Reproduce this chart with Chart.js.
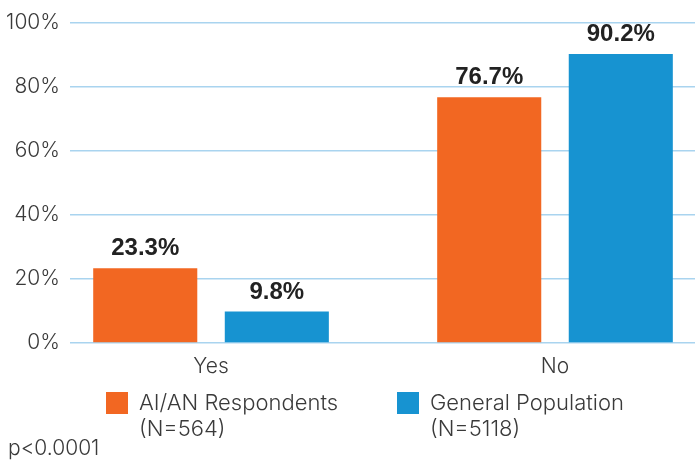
<!DOCTYPE html>
<html>
<head>
<meta charset="utf-8">
<script src="https://cdn.jsdelivr.net/npm/chart.js@4.4.1/dist/chart.umd.min.js"></script>
<style>
  html, body { margin: 0; padding: 0; background: #fff; }
  #wrap { width: 695px; height: 464px; position: relative; }
</style>
</head>
<body>
<div id="wrap"><canvas id="chart"></canvas></div>
<script>
// data
const categories = ['Yes', 'No'];
const seriesNames = ['AI/AN Respondents', 'General Population'];
const seriesN = ['(N=564)', '(N=5118)'];
const aianValues = [23.3, 76.7];
const generalValues = [9.8, 90.2];
const yTicks = [0, 20, 40, 60, 80, 100];
const note = 'p<0.0001';

const ORANGE = '#F26722';
const BLUE = '#1793D1';
const GRID = '#A9D4EF';
const TEXT = '#3a3a3a';
const FONT = 'Inter, "Open Sans", sans-serif';

// categories sit at x = 1, 2 on a linear axis so their spacing can match the original
const toPoints = vals => vals.map((v, i) => ({ x: i + 1, y: v }));

// bold value labels above each bar
const valueLabels = {
    id: 'valueLabels',
    afterDatasetsDraw(chart) {
        const ctx = chart.ctx;
        ctx.save();
        ctx.font = 'bold 24px "Liberation Sans", Arial, sans-serif';
        ctx.fillStyle = '#222';
        ctx.textAlign = 'center';
        ctx.textBaseline = 'alphabetic';
        chart.data.datasets.forEach((ds, di) => {
            chart.getDatasetMeta(di).data.forEach((bar, i) => {
                ctx.fillText(ds.data[i].y.toFixed(1) + '%', bar.x, bar.y - 13);
            });
        });
        ctx.restore();
    }
};

// two-line legend under the axis, plus the p-value note
const bottomLegend = {
    id: 'bottomLegend',
    afterDraw(chart) {
        const ctx = chart.ctx;
        const starts = [106, 397];
        ctx.save();
        ctx.font = '300 22px ' + FONT;
        ctx.textBaseline = 'middle';
        ctx.textAlign = 'left';
        chart.data.datasets.forEach((ds, i) => {
            const x = starts[i];
            ctx.fillStyle = ds.backgroundColor;
            ctx.fillRect(x, 392, 22, 22);
            ctx.fillStyle = TEXT;
            ctx.fillText(seriesNames[i], x + 33, 403);
            ctx.fillText(seriesN[i], x + 33, 429);
        });
        ctx.font = '300 21px ' + FONT;
        ctx.fillText(note, 8, 449);
        ctx.restore();
    }
};

const ctx = document.getElementById('chart').getContext('2d');
const chart = new Chart(ctx, {
    type: 'bar',
    data: {
        datasets: [{
            label: seriesNames[0],
            data: toPoints(aianValues),
            backgroundColor: ORANGE,
            categoryPercentage: 0.765,
            barPercentage: 0.791
        }, {
            label: seriesNames[1],
            data: toPoints(generalValues),
            backgroundColor: BLUE,
            categoryPercentage: 0.765,
            barPercentage: 0.791
        }]
    },
    options: {
        responsive: true,
        maintainAspectRatio: false,
        animation: false,
        layout: {
            padding: { top: 20, right: 0, bottom: 0, left: 0 }
        },
        scales: {
            x: {
                type: 'linear',
                offset: false,
                min: 0.59,
                max: 2.407,
                grid: { display: false },
                border: { display: false },
                afterBuildTicks: scale => {
                    scale.ticks = categories.map((c, i) => ({ value: i + 1 }));
                },
                afterFit: scale => { scale.height = 121; },
                ticks: {
                    padding: 3,
                    color: TEXT,
                    font: { family: FONT, size: 21, weight: 300 },
                    callback: v => categories[v - 1]
                }
            },
            y: {
                min: 0,
                max: 100,
                afterBuildTicks: scale => {
                    scale.ticks = yTicks.map(v => ({ value: v }));
                },
                afterFit: scale => { scale.width = 70; },
                grid: {
                    color: GRID,
                    lineWidth: 1.5,
                    drawTicks: false
                },
                border: { display: false },
                ticks: {
                    padding: 10,
                    color: TEXT,
                    font: { family: FONT, size: 21, weight: 300 },
                    callback: v => v + '%'
                }
            }
        },
        plugins: {
            legend: { display: false },
            tooltip: { enabled: false }
        }
    },
    plugins: [valueLabels, bottomLegend]
});
</script>
</body>
</html>
